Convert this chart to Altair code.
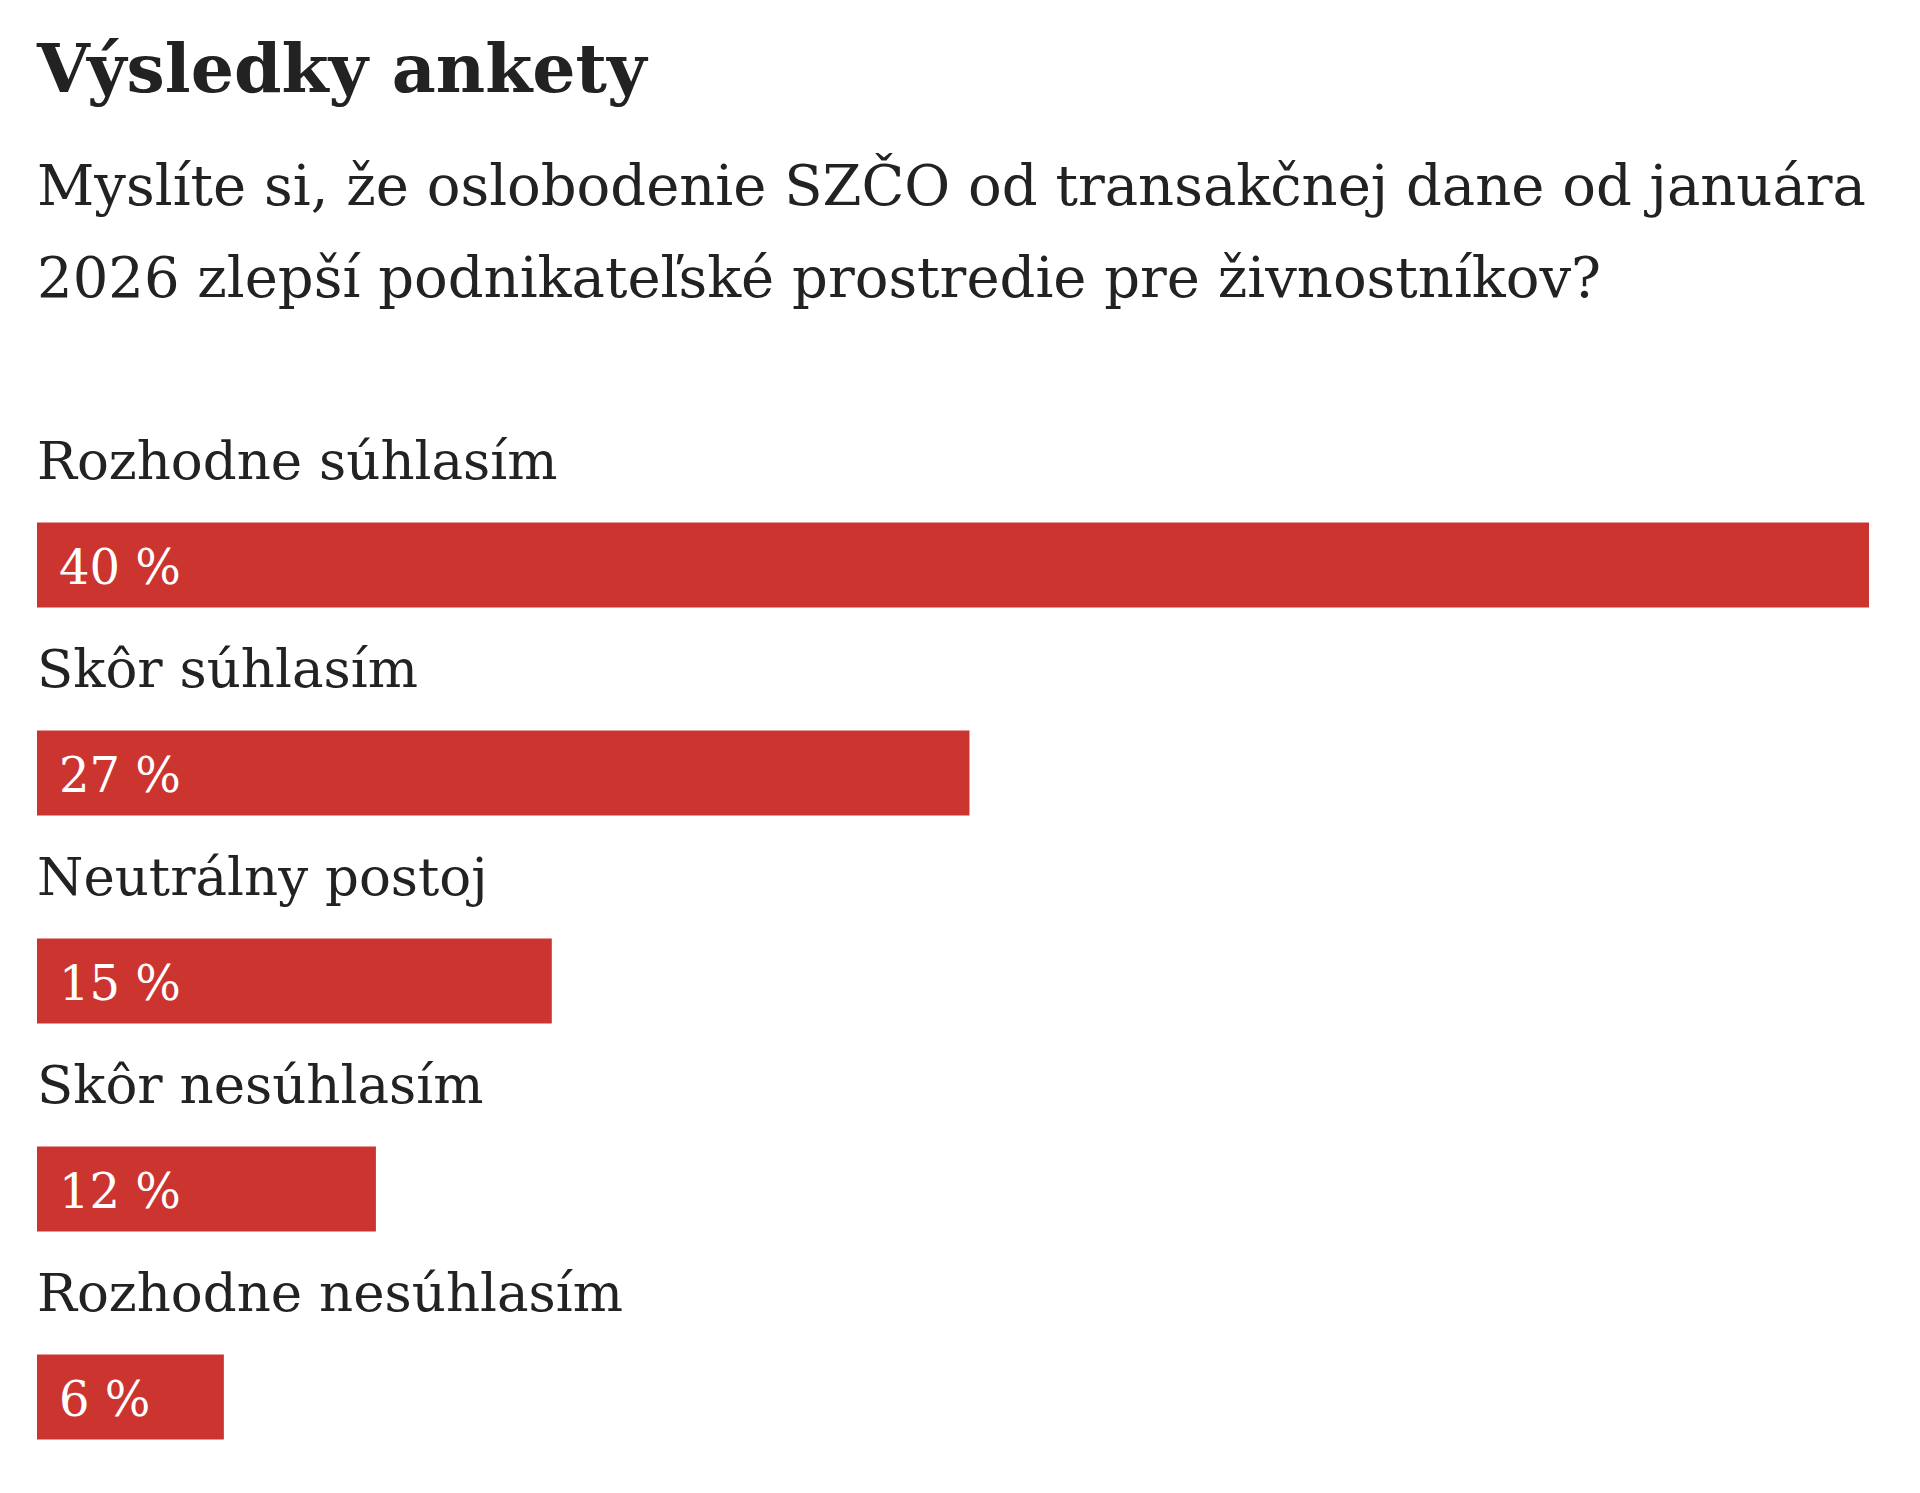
import altair as alt
import pandas as pd

# ---- data ----
categories = [
    "Rozhodne súhlasím",
    "Skôr súhlasím",
    "Neutrálny postoj",
    "Skôr nesúhlasím",
    "Rozhodne nesúhlasím",
]
percent = [40, 27, 15, 12, 6]
# bar lengths as drawn in the picture (relative to the longest bar = 100)
bar_length = [100, 50.9, 28.1, 18.5, 10.2]

title_text = "Výsledky ankety"
question_lines = [
    "Myslíte si, že oslobodenie SZČO od transakčnej dane od januára",
    "2026 zlepší podnikateľské prostredie pre živnostníkov?",
]

FONT = "DejaVu Serif"
INK = "#222222"
RED = "#CC3430"

df = pd.DataFrame({"answer": categories, "pct": percent, "len": bar_length})
df["label"] = df["pct"].astype(str) + " %"

y_enc = alt.Y(
    "answer:N",
    sort=categories,
    axis=None,
    scale=alt.Scale(paddingInner=0, paddingOuter=0),
)

base = alt.Chart(df).encode(y=y_enc)

bars = base.mark_bar(color=RED, height=85, yOffset=49).encode(
    x=alt.X(
        "len:Q",
        axis=None,
        scale=alt.Scale(domain=[0, 100], nice=False, zero=True),
    )
)

cat_labels = base.mark_text(
    align="left",
    baseline="alphabetic",
    font=FONT,
    fontSize=53,
    color=INK,
    dy=-37,
).encode(x=alt.value(0), text="answer:N")

pct_labels = base.mark_text(
    align="left",
    baseline="alphabetic",
    font=FONT,
    fontSize=48,
    color="white",
    dy=68,
).encode(x=alt.value(22), text="label:N")

chart = (
    alt.layer(bars, cat_labels, pct_labels)
    .properties(
        width=1832,
        height=1040,
        padding={"left": 29, "top": 30, "right": 0, "bottom": 0},
        background="white",
        title=alt.TitleParams(
            text=title_text,
            subtitle=question_lines,
            anchor="start",
            frame="group",
            font=FONT,
            fontSize=68,
            fontWeight="bold",
            color=INK,
            subtitleFont=FONT,
            subtitleFontSize=56,
            subtitleColor=INK,
            subtitleLineHeight=91.7,
            subtitlePadding=55,
            offset=104,
        ),
    )
    .configure_view(stroke=None)
)

chart.save("out.html", embed_options={"renderer": "svg", "actions": False})
